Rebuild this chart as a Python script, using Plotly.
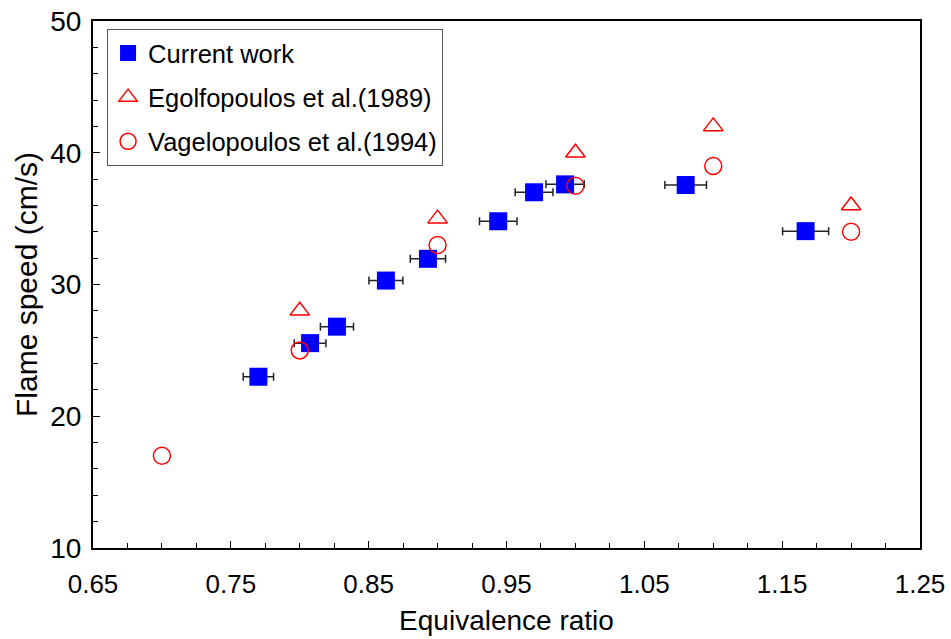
import plotly.graph_objects as go

# Current work
cur_x = [0.77, 0.8075, 0.827, 0.8625, 0.893, 0.944, 0.970, 0.9925, 1.08, 1.167]
cur_y = [23.0, 25.55, 26.8, 30.3, 31.95, 34.8, 37.0, 37.6, 37.55, 34.05]
cur_xerr = [0.011, 0.0115, 0.012, 0.0123, 0.0128, 0.0136, 0.0137, 0.0139, 0.0151, 0.0167]

# Egolfopoulos et al. (1989)
ego_x = [0.8, 0.9, 1.0, 1.1, 1.2]
ego_y = [28, 35, 40, 42, 36]

# Vagelopoulos et al. (1994)
vag_x = [0.7, 0.8, 0.9, 1.0, 1.1, 1.2]
vag_y = [17, 25, 33, 37.5, 39, 34]

FONT = "Liberation Sans, Arial, sans-serif"

fig = go.Figure()
fig.add_trace(go.Scatter(
    x=cur_x, y=cur_y, mode="markers", name="Current work", legendgroup="a",
    marker=dict(symbol="square", size=18, color="#0000ff", line=dict(width=0)),
    error_x=dict(type="data", array=cur_xerr, visible=True, color="#222222", thickness=1.5, width=4),
))
fig.add_trace(go.Scatter(
    x=ego_x, y=ego_y, mode="markers", name="Egolfopoulos et al.(1989)", legendgroup="b",
    marker=dict(symbol="triangle-up-open", size=17, color="#ff0000", line=dict(width=1.5, color="#ff0000")),
))
fig.add_trace(go.Scatter(
    x=vag_x, y=vag_y, mode="markers", name="Vagelopoulos et al.(1994)", legendgroup="c",
    marker=dict(symbol="circle-open", size=17, color="#ff0000", line=dict(width=1.5, color="#ff0000")),
))

fig.update_layout(
    width=951, height=639,
    margin=dict(l=93, r=31, t=21, b=91),
    paper_bgcolor="white", plot_bgcolor="white",
    font=dict(family=FONT, size=24, color="black"),
    showlegend=True,
    legend=dict(
        x=0.017, y=0.985, xanchor="left", yanchor="top",
        bgcolor="white", bordercolor="#555555", borderwidth=1,
        font=dict(family=FONT, size=25.5, color="black"),
        traceorder="grouped", tracegroupgap=8,
        itemwidth=30,
    ),
    xaxis=dict(
        range=[0.65, 1.25], tick0=0.65, dtick=0.1, tickformat=".2f",
        automargin=False,
        showgrid=False, zeroline=False,
        showline=True, linecolor="black", linewidth=2, mirror=True,
        ticks="inside", ticklen=7, tickwidth=1, tickcolor="black",
        minor=dict(dtick=0.025, tick0=0.65, ticks="inside", ticklen=5, tickcolor="black", showgrid=False),
        tickfont=dict(size=26),
        ticklabelstandoff=12,
        title=dict(text="Equivalence ratio", font=dict(size=28), standoff=12),
    ),
    yaxis=dict(
        range=[10, 50], tick0=10, dtick=10,
        automargin=False,
        showgrid=False, zeroline=False,
        showline=True, linecolor="black", linewidth=2, mirror=True,
        ticks="inside", ticklen=7, tickwidth=1, tickcolor="black",
        minor=dict(dtick=2, ticks="inside", ticklen=5, tickcolor="black", showgrid=False),
        tickfont=dict(size=28),
        ticklabelstandoff=4,
        title=dict(text="Flame speed (cm/s)", font=dict(size=30), standoff=4),
    ),
)

fig.write_html("out.html")
